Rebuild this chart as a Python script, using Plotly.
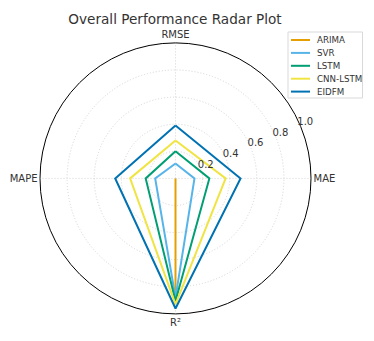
import plotly.graph_objects as go

categories = ["RMSE", "MAE", "R²", "MAPE"]
models = ["ARIMA", "SVR", "LSTM", "CNN-LSTM", "EIDFM"]
arima = [0.0, 0.0, 0.86, 0.0]
svr = [0.11, 0.14, 0.88, 0.15]
lstm = [0.20, 0.25, 0.905, 0.22]
cnn_lstm = [0.28, 0.37, 0.93, 0.335]
eidfm = [0.39, 0.48, 0.96, 0.445]
colors = ["#E69F00", "#56B4E9", "#009E73", "#F0E442", "#0072B2"]
radial_ticks = [0.2, 0.4, 0.6, 0.8, 1.0]
radial_ticktext = ["0.2", "0.4", "0.6", "0.8", "1.0"]

series = [arima, svr, lstm, cnn_lstm, eidfm]

W, H = 374, 341
cx, cy, R = 175.5, 178.4, 135.5
rmax = 1.0001
dom = dict(x=[(cx - R) / W, (cx + R) / W], y=[1 - (cy + R) / H, 1 - (cy - R) / H])
# overlay subplot for the radial tick labels, same centre and scale but larger range
k = 1.15
R2 = R * k
dom2 = dict(x=[(cx - R2) / W, (cx + R2) / W], y=[1 - (cy + R2) / H, 1 - (cy - R2) / H])

fig = go.Figure()
for name, vals, col in zip(models, series, colors):
    fig.add_trace(go.Scatterpolar(
        r=vals + vals[:1],
        theta=categories + categories[:1],
        mode="lines",
        name=name,
        line=dict(color=col, width=2),
        showlegend=False,
    ))

# radial tick labels placed along the 22.5 deg label direction (matplotlib style)
label_pad = 0.043
fig.add_trace(go.Scatterpolar(
    r=[t + label_pad for t in radial_ticks],
    theta=[23.3] * len(radial_ticks),
    mode="text",
    text=radial_ticktext,
    textposition="middle center",
    textfont=dict(size=10, color="#333333", family="DejaVu Sans"),
    cliponaxis=False,
    showlegend=False,
    hoverinfo="skip",
    subplot="polar2",
))

# custom compact legend (paper coordinates)
def px(x):
    return x / W

def py(y):
    return 1 - y / H

shapes = [dict(type="rect", xref="paper", yref="paper",
               x0=px(288), x1=px(362.5), y0=py(32), y1=py(98),
               line=dict(color="#d9d9d9", width=1), fillcolor="white", layer="above")]
annotations = []
for i, (name, col) in enumerate(zip(models, colors)):
    yy = 40 + i * 12.9
    shapes.append(dict(type="line", xref="paper", yref="paper",
                       x0=px(291), x1=px(310), y0=py(yy), y1=py(yy),
                       line=dict(color=col, width=2), layer="above"))
    annotations.append(dict(text=name, xref="paper", yref="paper",
                            x=px(315), y=py(yy), xanchor="left", yanchor="middle",
                            showarrow=False, font=dict(size=8.7, color="#333333")))

grid_style = dict(gridcolor="#d4d4d4", griddash="1px,2px", gridwidth=1)

fig.update_layout(
    width=W, height=H,
    margin=dict(l=0, r=0, t=0, b=0),
    paper_bgcolor="white",
    showlegend=False,
    font=dict(family="DejaVu Sans", color="#333333"),
    title=dict(text="Overall Performance Radar Plot", x=175 / W, xanchor="center",
               y=1 - 19 / H, yanchor="middle", font=dict(size=13.6, color="#333333")),
    polar=dict(
        domain=dom,
        bgcolor="white",
        radialaxis=dict(
            range=[0, rmax], tickvals=radial_ticks,
            showticklabels=False, showline=False, ticks="",
            **grid_style,
        ),
        angularaxis=dict(
            rotation=90, direction="clockwise",
            showline=True, linecolor="black", linewidth=1,
            ticks="", tickfont=dict(size=10, color="#333333"),
            **grid_style,
        ),
    ),
    polar2=dict(
        domain=dom2,
        bgcolor="rgba(0,0,0,0)",
        radialaxis=dict(range=[0, rmax * k], visible=False),
        angularaxis=dict(rotation=0, direction="counterclockwise", visible=False),
    ),
    shapes=shapes,
    annotations=annotations,
)

fig.write_html("out.html", config={"displayModeBar": False},
               post_script="document.body.style.margin='0';")
